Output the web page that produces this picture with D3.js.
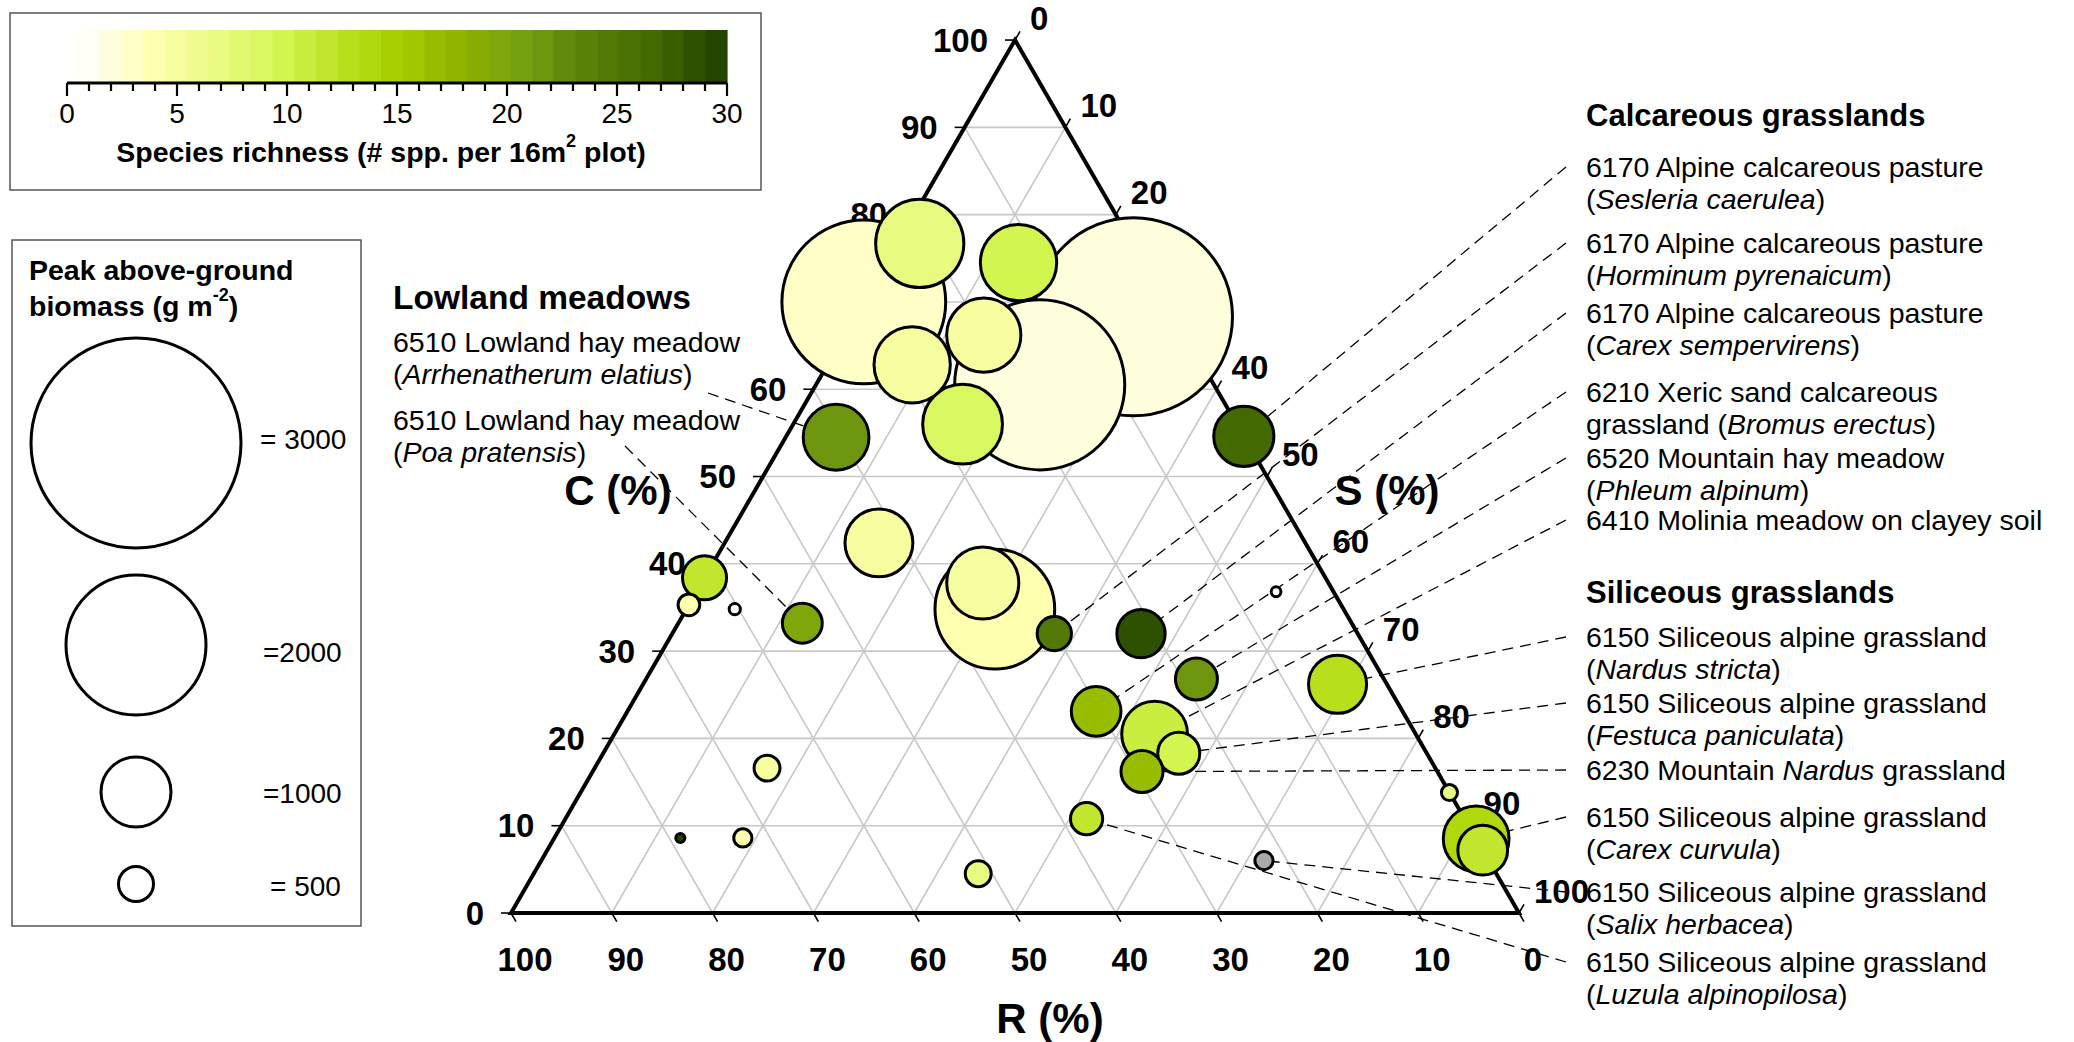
<!DOCTYPE html>
<html>
<head>
<meta charset="utf-8">
<script src="https://cdnjs.cloudflare.com/ajax/libs/d3/7.8.5/d3.min.js"></script>
<style>
  body { margin: 0; background: #fff; }
  svg { display: block; font-family: "Liberation Sans", Arial, sans-serif; }
  .tickLabel { font-weight: bold; font-size: 33px; }
  .axisTitle { font-weight: bold; font-size: 42px; }
  .groupHead { font-weight: bold; font-size: 32px; }
  .habLabel { font-size: 28.5px; }
  .legendText { font-size: 28px; }
  .legendTitle { font-weight: bold; font-size: 28.5px; }
</style>
</head>
<body>
<svg id="chart" width="2074" height="1042"></svg>
<script>

/* CSR composition of each habitat plot (%) */
var compC = [70.0, 76.7, 74.5, 66.2, 62.8, 56.0, 54.5, 68.3, 60.5, 54.6, 38.4, 35.3, 34.8, 33.2, 42.4, 34.8, 37.8, 32.0, 16.6, 8.6, 8.6, 4.5, 32.0, 26.8, 23.1, 20.5, 18.3, 16.2, 36.8, 26.2, 10.8, 6.0, 13.8, 8.5, 7.2]
var compS = [0, 2.2, 13.1, 13.8, 8.4, 16.8, 5.0, 27.6, 22.2, 45.4, 0, 0, 4.8, 12.3, 15.3, 30.6, 27.9, 37.9, 17.1, 12.5, 18.7, 44.1, 46.5, 54.6, 46.5, 53.6, 57.1, 54.5, 57.5, 68.9, 51.7, 71.7, 86.2, 91.5, 92.8]
var compR = [30.0, 21.1, 12.4, 20.0, 28.8, 27.2, 40.5, 4.1, 17.3, 0, 61.6, 64.7, 60.4, 54.5, 42.3, 34.6, 34.3, 30.1, 66.3, 78.9, 72.7, 51.4, 21.5, 18.6, 30.4, 25.9, 24.6, 29.3, 5.7, 4.9, 37.5, 22.3, 0, 0, 0]
// peak biomass (g m-2) and species richness (null = no data, grey)
var biomass = [2340, 1260, 1090, 1060, 1090, 1140, 940, 2830, 2430, 860, 630, 310, 160, 570, 970, 1710, 1030, 490, 370, 130, 260, 370, 690, 600, 710, 940, 600, 600, 140, 830, 460, 260, 230, 940, 710]
var richness = [2, 6, 9, 4, 4, 8, 21, 1, 1, 26, 11, 3, 0, 19, 4, 3, 4, 24, 4, 29, 3, 6, 28, 21, 16, 10, 9, 16, 0, 12, 11, null, 6, 13, 11]

/* axis ticks */
var axisTicks = [0, 10, 20, 30, 40, 50, 60, 70, 80, 90, 100]
var richTicks = [0, 5, 10, 15, 20, 25, 30]
var bioLegendVals = [3000, 2000, 1000, 500]
var bioLegendText = ["= 3000", "=2000", "=1000", "= 500"]

/* habitat labels, *text* = italic. each label points to one plot */
var lowText = [["6510 Lowland hay meadow", "(*Arrhenatherum elatius*)"], ["6510 Lowland hay meadow", "(*Poa pratensis*)"]]
var lowTarget = [6, 13]
var calcText = [
  ["6170 Alpine calcareous pasture", "(*Sesleria caerulea*)"],
  ["6170 Alpine calcareous pasture", "(*Horminum pyrenaicum*)"],
  ["6170 Alpine calcareous pasture", "(*Carex sempervirens*)"],
  ["6210 Xeric sand calcareous", "grassland (*Bromus erectus*)"],
  ["6520 Mountain hay meadow", "(*Phleum alpinum*)"],
  ["6410 Molinia meadow on clayey soil"]
]
var calcTarget = [9, 17, 22, 24, 23, 25]
var siliText = [
  ["6150 Siliceous alpine grassland", "(*Nardus stricta*)"],
  ["6150 Siliceous alpine grassland", "(*Festuca paniculata*)"],
  ["6230 Mountain *Nardus* grassland"],
  ["6150 Siliceous alpine grassland", "(*Carex curvula*)"],
  ["6150 Siliceous alpine grassland", "(*Salix herbacea*)"],
  ["6150 Siliceous alpine grassland", "(*Luzula alpinopilosa*)"]
]
var siliTarget = [29, 26, 27, 33, 31, 30]

/* layout bits (pixels) */
var layout = {
  triX: 511,
  triY: 913,
  triW: 1008,
  tickLen: 10,
  rightTextX: 1586,
  lineGap: 32,
  calcY: [167, 243, 313, 392, 458, 520],
  siliY: [637, 703, 770, 817, 892, 962],
  lowX: 393,
  lowY: [342, 420],
  lowLineStart: [[708, 393], [625, 446]],
  bioCy: [443, 645, 792, 884],
  bioTx: [260, 263, 263, 270],
  bioTy: [439, 652, 793, 886]
}

var svg = d3.select("#chart")

/* ternary -> pixel through two linear scales */
var tx = d3.scaleLinear().domain([0, 100]).range([layout.triX, layout.triX + layout.triW])
var ty = d3.scaleLinear().domain([0, 100]).range([layout.triY, layout.triY - layout.triW * Math.sqrt(3) / 2])
function tern(c, s, r) {
  var t = c + s + r
  c = c / t * 100
  s = s / t * 100
  return [tx(s + c / 2), ty(c)]
}

var rScale = d3.scaleLinear().domain([0, 3000]).range([0, 105])
var richColor = d3.scaleLinear()
  .domain([0, 3, 6, 9, 12, 14, 17, 20, 23, 26, 30])
  .range(["#fffff4", "#ffffb0", "#e8fb80", "#d2f550", "#b8df1c", "#a8d000", "#90b400", "#76a010", "#5a8008", "#426a00", "#183800"])
function fillFor(v) { return v == null ? "#a9a9a9" : richColor(v) }

// write text with *italic* parts as tspans
function richText(sel, str) {
  str.split("*").forEach(function(part, i) {
    if (part === "") return
    sel.append("tspan").text(part).style("font-style", i % 2 ? "italic" : "normal")
  })
}

/* grid */
var gridVals = d3.range(10, 100, 10)
var gridG = svg.append("g").attr("stroke", "#c8c8c8").attr("stroke-width", 1.6)
gridVals.forEach(function(v) {
  var segs = [
    [tern(v, 0, 100 - v), tern(v, 100 - v, 0)],
    [tern(0, v, 100 - v), tern(100 - v, v, 0)],
    [tern(0, 100 - v, v), tern(100 - v, 0, v)]
  ]
  segs.forEach(function(s) {
    gridG.append("line").attr("x1", s[0][0]).attr("y1", s[0][1]).attr("x2", s[1][0]).attr("y2", s[1][1])
  })
})

/* ticks + tick labels (under the bubbles, like the original) */
var tickG = svg.append("g").attr("stroke", "#000").attr("stroke-width", 1.6)
var labG = svg.append("g")
var L = layout.tickLen
axisTicks.forEach(function(v) {
  // C, left edge
  var p = tern(v, 0, 100 - v)
  tickG.append("line").attr("x1", p[0]).attr("y1", p[1]).attr("x2", p[0] - L).attr("y2", p[1])
  labG.append("text").attr("class", "tickLabel").attr("text-anchor", "end")
    .attr("dominant-baseline", "central").attr("x", p[0] - 27).attr("y", p[1]).text(v)
  // R, bottom edge
  var q = tern(0, 100 - v, v)
  tickG.append("line").attr("x1", q[0]).attr("y1", q[1]).attr("x2", q[0] + L * 0.5).attr("y2", q[1] + L * 0.866)
  labG.append("text").attr("class", "tickLabel").attr("text-anchor", "middle")
    .attr("dominant-baseline", "central").attr("x", q[0] + 14).attr("y", layout.triY + 46).text(v)
  // S, right edge
  var s = tern(100 - v, v, 0)
  tickG.append("line").attr("x1", s[0]).attr("y1", s[1]).attr("x2", s[0] + L * 0.5).attr("y2", s[1] - L * 0.866)
  labG.append("text").attr("class", "tickLabel").attr("text-anchor", "start")
    .attr("dominant-baseline", "central").attr("x", s[0] + 15).attr("y", s[1] - 22).text(v)
})

/* triangle frame */
var corners = [tern(100, 0, 0), tern(0, 100, 0), tern(0, 0, 100)]
svg.append("polygon")
  .attr("points", corners.map(function(c) { return c.join(",") }).join(" "))
  .attr("fill", "none").attr("stroke", "#000").attr("stroke-width", 4).attr("stroke-linejoin", "miter")

/* axis titles */
svg.append("text").attr("class", "axisTitle").attr("text-anchor", "middle").attr("dominant-baseline", "central")
  .attr("x", 618).attr("y", 490).text("C (%)")
svg.append("text").attr("class", "axisTitle").attr("text-anchor", "middle").attr("dominant-baseline", "central")
  .attr("x", 1387).attr("y", 490).text("S (%)")
svg.append("text").attr("class", "axisTitle").attr("text-anchor", "middle").attr("dominant-baseline", "central")
  .attr("x", 1050).attr("y", 1018).text("R (%)")

/* points */
var plots = compC.map(function(c, i) {
  var p = tern(c, compS[i], compR[i])
  return { x: p[0], y: p[1], r: rScale(biomass[i]), fill: fillFor(richness[i]) }
})

/* leader lines, drawn before the bubbles */
var leadG = svg.append("g").attr("stroke", "#000").attr("stroke-width", 1.3).attr("stroke-dasharray", "11,7").attr("fill", "none")
lowTarget.forEach(function(t, i) {
  var st = layout.lowLineStart[i]
  leadG.append("line").attr("x1", st[0]).attr("y1", st[1]).attr("x2", plots[t].x).attr("y2", plots[t].y)
})
calcTarget.forEach(function(t, i) {
  leadG.append("line").attr("x1", layout.rightTextX - 20).attr("y1", layout.calcY[i])
    .attr("x2", plots[t].x).attr("y2", plots[t].y)
})
siliTarget.forEach(function(t, i) {
  leadG.append("line").attr("x1", layout.rightTextX - 20).attr("y1", layout.siliY[i])
    .attr("x2", plots[t].x).attr("y2", plots[t].y)
})

// big bubbles first so small ones sit on top
var order = d3.range(plots.length).sort(function(a, b) { return biomass[b] - biomass[a] })
svg.append("g").selectAll("circle").data(order.map(function(i) { return plots[i] })).enter()
  .append("circle")
  .attr("cx", function(d) { return d.x })
  .attr("cy", function(d) { return d.y })
  .attr("r", function(d) { return d.r })
  .attr("fill", function(d) { return d.fill })
  .attr("stroke", "#000")
  .attr("stroke-width", 3)

/* habitat labels */
function labelBlock(texts, ys, x) {
  texts.forEach(function(lines, i) {
    lines.forEach(function(line, j) {
      var t = svg.append("text").attr("class", "habLabel").attr("dominant-baseline", "central")
        .attr("x", x).attr("y", ys[i] + j * layout.lineGap)
      richText(t, line)
    })
  })
}
svg.append("text").attr("class", "groupHead").attr("dominant-baseline", "central")
  .attr("x", layout.lowX).attr("y", 297).style("font-size", "33.5px").text("Lowland meadows")
labelBlock(lowText, layout.lowY, layout.lowX)
svg.append("text").attr("class", "groupHead").attr("dominant-baseline", "central")
  .attr("x", layout.rightTextX).attr("y", 115).style("font-size", "31px").text("Calcareous grasslands")
labelBlock(calcText, layout.calcY, layout.rightTextX)
svg.append("text").attr("class", "groupHead").attr("dominant-baseline", "central")
  .attr("x", layout.rightTextX).attr("y", 592).style("font-size", "31px").text("Siliceous grasslands")
labelBlock(siliText, layout.siliY, layout.rightTextX)

/* colour legend */
svg.append("rect").attr("x", 10).attr("y", 13).attr("width", 751).attr("height", 177)
  .attr("fill", "#fff").attr("stroke", "#555").attr("stroke-width", 1.5)
var cx = d3.scaleLinear().domain([0, 30]).range([67, 727])
var barX = d3.scaleLinear().domain([0, 30]).range([78, 727])
svg.append("g").selectAll("rect").data(d3.range(30)).enter()
  .append("rect")
  .attr("x", function(d) { return barX(d) })
  .attr("width", function(d) { return barX(d + 1) - barX(d) + 0.6 })
  .attr("y", 30).attr("height", 53)
  .attr("fill", function(d) { return richColor(d) })
var cAxis = svg.append("g").attr("stroke", "#000")
cAxis.append("line").attr("x1", cx(0)).attr("x2", cx(30)).attr("y1", 83).attr("y2", 83).attr("stroke-width", 3)
d3.range(31).forEach(function(v) {
  var major = v % 5 === 0
  cAxis.append("line").attr("x1", cx(v)).attr("x2", cx(v)).attr("y1", 83).attr("y2", major ? 96 : 91)
    .attr("stroke-width", 2.2)
})
richTicks.forEach(function(v) {
  svg.append("text").attr("class", "legendText").attr("text-anchor", "middle").attr("dominant-baseline", "central")
    .attr("x", cx(v)).attr("y", 113).text(v)
})
var ct = svg.append("text").attr("class", "legendTitle").attr("text-anchor", "middle").attr("dominant-baseline", "central")
  .attr("x", 381).attr("y", 152)
ct.append("tspan").text("Species richness (# spp. per 16m")
ct.append("tspan").text("2").attr("dy", -11).style("font-size", "18px")
ct.append("tspan").text(" plot)").attr("dy", 11)

/* biomass legend */
svg.append("rect").attr("x", 12).attr("y", 240).attr("width", 349).attr("height", 686)
  .attr("fill", "#fff").attr("stroke", "#555").attr("stroke-width", 1.5)
svg.append("text").attr("class", "legendTitle").attr("dominant-baseline", "central")
  .attr("x", 29).attr("y", 270).text("Peak above-ground")
var bt = svg.append("text").attr("class", "legendTitle").attr("dominant-baseline", "central")
  .attr("x", 29).attr("y", 306)
bt.append("tspan").text("biomass (g m")
bt.append("tspan").text("-2").attr("dy", -11).style("font-size", "18px")
bt.append("tspan").text(")").attr("dy", 11)
bioLegendVals.forEach(function(v, i) {
  svg.append("circle").attr("cx", 136).attr("cy", layout.bioCy[i]).attr("r", rScale(v))
    .attr("fill", "#fff").attr("stroke", "#000").attr("stroke-width", 3)
  svg.append("text").attr("class", "legendText").attr("dominant-baseline", "central")
    .attr("x", layout.bioTx[i]).attr("y", layout.bioTy[i]).text(bioLegendText[i])
})

</script>
</body>
</html>
